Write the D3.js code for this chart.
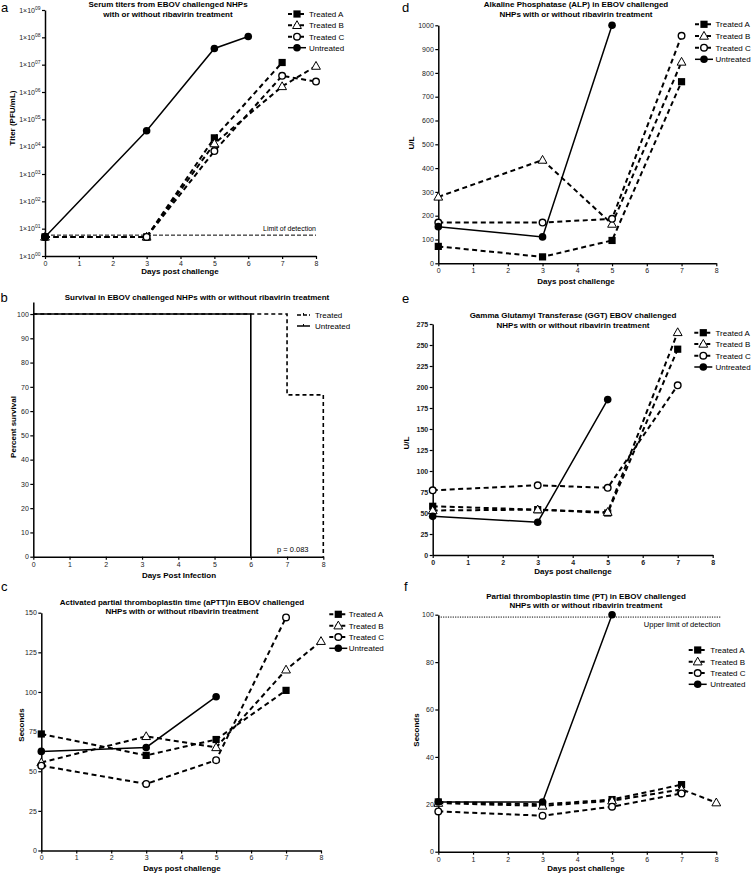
<!DOCTYPE html>
<html><head><meta charset="utf-8">
<script src="https://cdn.jsdelivr.net/npm/d3@7"></script>
<style>body{margin:0;background:#fff}svg{display:block}</style>
</head><body>
<svg id="chart" width="752" height="873"></svg>
<script>
// ---------- DATA ----------
const seriesNames = ["Treated A", "Treated B", "Treated C", "Untreated"];
const seriesShapes = ["square", "triangle", "circleOpen", "circle"];
const xTickValues = [0, 1, 2, 3, 4, 5, 6, 7, 8];

// (a) Serum titers (PFU/mL)
const aDays = [0, 3, 5, 6, 7, 8];
const aTreatedA = [5, 5, 2.1e4, null, 1.2e7, null];
const aTreatedB = [5, 5, 1.3e4, null, 1.6e6, 8.9e6];
const aTreatedC = [5, 5, 6.9e3, null, 3.9e6, 2.4e6];
const aUntreated = [5, 3.8e4, 3.9e7, 1.07e8, null, null];
const aTickExponents = ["00", "01", "02", "03", "04", "05", "06", "07", "08", "09"];
const aLimit = 5.8;

// (b) Survival (%)
const bTreatedDays = [0, 7, 8];
const bTreated = [100, 66.7, 0];
const bUntreatedDays = [0, 6];
const bUntreated = [100, 0];
const bYTicks = [0, 10, 20, 30, 40, 50, 60, 70, 80, 90, 100];

// (c) aPTT (seconds)
const cDays = [0, 3, 5, 7, 8];
const cTreatedA = [73.5, 60, 70, 101, null];
const cTreatedB = [55.5, 72, 65, 114, 132];
const cTreatedC = [53.5, 42, 57, 147, null];
const cUntreated = [62.5, 65, 97, null, null];
const cYTicks = [0, 25, 50, 75, 100, 125, 150];

// (d) ALP (U/L)
const dDays = [0, 3, 5, 7];
const dTreatedA = [71, 27, 96, 763];
const dTreatedB = [279, 434, 165, 846];
const dTreatedC = [171, 171, 187, 956];
const dUntreated = [154, 111, 1000, null];
const dYTicks = [0, 100, 200, 300, 400, 500, 600, 700, 800, 900, 1000];

// (e) GGT (U/L)
const eDays = [0, 3, 5, 7];
const eTreatedA = [58, 54, 50, 245];
const eTreatedB = [53, 54, 51, 265];
const eTreatedC = [77, 83, 80, 202];
const eUntreated = [46, 39, 185, null];
const eYTicks = [0, 25, 50, 75, 100, 125, 150, 175, 200, 225, 250, 275];

// (f) PT (seconds)
const fDays = [0, 3, 5, 7, 8];
const fTreatedA = [21, 20, 22, 28.3, null];
const fTreatedB = [20.5, 19.3, 21.5, 26.3, 20.7];
const fTreatedC = [17, 15.2, 19, 24.6, null];
const fUntreated = [21, 21, 100, null, null];
const fYTicks = [0, 20, 40, 60, 80, 100];
const fUpperLimit = 99;

// ---------- DRAWING ----------
const FONT = "'Liberation Sans', Arial, Helvetica, sans-serif";
const svg = d3.select("#chart");

function txt(g, x, y, s, o = {}) {
  return g.append("text").attr("x", x).attr("y", y).text(s)
    .attr("font-family", FONT).attr("font-size", o.size || 8)
    .attr("font-weight", o.bold ? "bold" : "normal")
    .attr("text-anchor", o.anchor || "start").attr("fill", o.fill || "#000");
}
function rotTxt(g, x, y, s) {
  return g.append("text").attr("transform", `translate(${x},${y}) rotate(-90)`).text(s)
    .attr("font-family", FONT).attr("font-size", 8).attr("font-weight", "bold")
    .attr("text-anchor", "middle").attr("dominant-baseline", "central");
}

function axes(g, x, y, yTicks, yFmt, boldTicks) {
  const gx = g.append("g").attr("transform", `translate(0,${y.range()[0]})`)
    .call(d3.axisBottom(x).tickValues(xTickValues).tickSize(3).tickSizeOuter(0).tickPadding(2));
  const gy = g.append("g").attr("transform", `translate(${x.range()[0]},0)`)
    .call(d3.axisLeft(y).tickValues(yTicks).tickFormat(yFmt).tickSize(3).tickSizeOuter(0).tickPadding(1.5));
  [gx, gy].forEach(a => {
    a.attr("font-family", FONT).attr("font-size", 7);
    a.select(".domain").attr("stroke-width", 1.5);
    a.selectAll(".tick line").attr("stroke-width", 1.2);
    a.selectAll(".tick text").attr("fill", "#222").attr("font-weight", boldTicks ? "bold" : "normal");
  });
  return {gx, gy};
}

function marker(g, shape, cx, cy) {
  if (shape === "square") {
    g.append("rect").attr("x", cx - 3.6).attr("y", cy - 3.6).attr("width", 7.2).attr("height", 7.2).attr("fill", "#000");
  } else if (shape === "triangle") {
    g.append("path").attr("d", `M${cx},${cy - 4.6}L${cx - 4.4},${cy + 3.2}L${cx + 4.4},${cy + 3.2}Z`)
      .attr("fill", "#fff").attr("stroke", "#000").attr("stroke-width", 1);
  } else if (shape === "circleOpen") {
    g.append("circle").attr("cx", cx).attr("cy", cy).attr("r", 3.3).attr("fill", "#fff").attr("stroke", "#000").attr("stroke-width", 1.4);
  } else {
    g.append("circle").attr("cx", cx).attr("cy", cy).attr("r", 3.8).attr("fill", "#000");
  }
}

function seriesPlot(g, x, y, days, seriesList) {
  const line = d3.line().x(d => x(d[0])).y(d => y(d[1]));
  const data = seriesList.map(vals => days.map((d, i) => [d, vals[i]]).filter(p => p[1] != null));
  data.forEach((pts, i) => {
    g.append("path").attr("d", line(pts)).attr("fill", "none").attr("stroke", "#000")
      .attr("stroke-width", i < 3 ? 2 : 1.5)
      .attr("stroke-dasharray", i < 3 ? "5,3.5" : null);
  });
  data.forEach((pts, i) => pts.forEach(p => marker(g, seriesShapes[i], x(p[0]), y(p[1]))));
}

function legend(g, mx, tx, ys) {
  seriesNames.forEach((n, i) => {
    g.append("line").attr("x1", mx - 9).attr("x2", mx + 9).attr("y1", ys[i]).attr("y2", ys[i])
      .attr("stroke", "#000").attr("stroke-width", i < 3 ? 2 : 1.5)
      .attr("stroke-dasharray", i < 3 ? "4,2" : null);
    marker(g, seriesShapes[i], mx, ys[i]);
    txt(g, tx, ys[i] + 2.8, n, {size: 8});
  });
}

// ---- Panel a ----
{
  const g = svg.append("g");
  const x = d3.scaleLinear([0, 8], [45, 316]);
  const y = d3.scaleLog([1, 1e9], [256, 10]);
  const yt = d3.range(0, 10).map(k => Math.pow(10, k));
  const {gy} = axes(g, x, y, yt, () => "");
  gy.selectAll(".tick text").each(function (d) {
    const t = d3.select(this);
    const k = Math.round(Math.log10(d));
    t.append("tspan").text("1×10");
    t.append("tspan").attr("dy", -3).attr("font-size", 5).text(aTickExponents[k]);
  });
  g.append("line").attr("x1", x(0)).attr("x2", x(8)).attr("y1", y(aLimit)).attr("y2", y(aLimit))
    .attr("stroke", "#000").attr("stroke-width", 1).attr("stroke-dasharray", "4,2");
  txt(g, x(8), y(aLimit) - 4, "Limit of detection", {size: 7, anchor: "end"});
  seriesPlot(g, x, y, aDays, [aTreatedA, aTreatedB, aTreatedC, aUntreated]);
  legend(g, 297, 309, [14, 25.3, 36.7, 47.7]);
  txt(g, 168, 6.5, "Serum titers from EBOV challenged NHPs", {bold: true, anchor: "middle"});
  txt(g, 168, 16.5, "with or without ribavirin treatment", {bold: true, anchor: "middle"});
  rotTxt(g, 12.5, 118, "Titer (PFU/mL)");
  txt(g, 180, 274, "Days post challenge", {bold: true, anchor: "middle"});
  txt(g, 1, 12, "a", {size: 13});
}

// ---- Panel d ----
{
  const g = svg.append("g");
  const x = d3.scaleLinear([0, 8], [438.3, 716.3]);
  const y = d3.scaleLinear([0, 1000], [263.3, 25.3]);
  axes(g, x, y, dYTicks, d3.format("d"));
  seriesPlot(g, x, y, dDays, [dTreatedA, dTreatedB, dTreatedC, dUntreated]);
  legend(g, 704, 715.5, [24.3, 36, 47.7, 59.3]);
  txt(g, 576, 7, "Alkaline Phosphatase (ALP) in EBOV challenged", {bold: true, anchor: "middle"});
  txt(g, 576, 17, "NHPs with or without ribavirin treatment", {bold: true, anchor: "middle"});
  rotTxt(g, 411, 143, "U/L");
  txt(g, 576, 283.5, "Days post challenge", {bold: true, anchor: "middle"});
  txt(g, 402, 12, "d", {size: 13});
}

// ---- Panel b ----
{
  const g = svg.append("g");
  const x = d3.scaleLinear([0, 8], [33.3, 323.3]);
  const y = d3.scaleLinear([0, 105], [556.7, 301.9]);
  axes(g, x, y, bYTicks, d3.format("d"));
  const line = d3.line().x(d => x(d[0])).y(d => y(d[1])).curve(d3.curveStepAfter);
  g.append("path").attr("d", line(bTreatedDays.map((d, i) => [d, bTreated[i]])))
    .attr("fill", "none").attr("stroke", "#000").attr("stroke-width", 1.6).attr("stroke-dasharray", "4,3");
  g.append("path").attr("d", line(bUntreatedDays.map((d, i) => [d, bUntreated[i]])))
    .attr("fill", "none").attr("stroke", "#000").attr("stroke-width", 1.6);
  // legend
  [["Treated", "4,2", 315], ["Untreated", null, 326]].forEach(([n, da, yy]) => {
    g.append("line").attr("x1", 297).attr("x2", 310).attr("y1", yy).attr("y2", yy)
      .attr("stroke", "#000").attr("stroke-width", 1.5).attr("stroke-dasharray", da);
    g.append("line").attr("x1", 303.5).attr("x2", 303.5).attr("y1", yy - 2).attr("y2", yy)
      .attr("stroke", "#000").attr("stroke-width", 1);
    txt(g, 315, yy + 2.8, n, {size: 8});
  });
  txt(g, 277, 552, "p = 0.083", {size: 7.5});
  txt(g, 197, 300, "Survival in EBOV challenged NHPs with or without ribavirin treatment", {bold: true, anchor: "middle"});
  rotTxt(g, 13, 427, "Percent survival");
  txt(g, 179, 577.5, "Days Post Infection", {bold: true, anchor: "middle"});
  txt(g, 0.5, 302, "b", {size: 13});
}

// ---- Panel e ----
{
  const g = svg.append("g");
  const x = d3.scaleLinear([0, 8], [432.7, 712.7]);
  const y = d3.scaleLinear([0, 275], [555, 324]);
  axes(g, x, y, eYTicks, d3.format("d"), true);
  seriesPlot(g, x, y, eDays, [eTreatedA, eTreatedB, eTreatedC, eUntreated]);
  legend(g, 703.3, 715.5, [332.7, 344, 355.7, 367]);
  txt(g, 573, 318, "Gamma Glutamyl Transferase (GGT) EBOV challenged", {bold: true, anchor: "middle"});
  txt(g, 573, 327.5, "NHPs with or without ribavirin treatment", {bold: true, anchor: "middle"});
  rotTxt(g, 406, 443, "U/L");
  txt(g, 573, 573.5, "Days post challenge", {bold: true, anchor: "middle"});
  txt(g, 402, 303, "e", {size: 13});
}

// ---- Panel c ----
{
  const g = svg.append("g");
  const x = d3.scaleLinear([0, 8], [41.3, 321]);
  const y = d3.scaleLinear([0, 150], [850.5, 612.7]);
  axes(g, x, y, cYTicks, d3.format("d"));
  seriesPlot(g, x, y, cDays, [cTreatedA, cTreatedB, cTreatedC, cUntreated]);
  legend(g, 338.3, 348.7, [614.3, 625.7, 637, 648.3]);
  txt(g, 182, 604.5, "Activated partial thromboplastin time (aPTT)in EBOV challenged", {bold: true, anchor: "middle"});
  txt(g, 182, 613.5, "NHPs with or without ribavirin treatment", {bold: true, anchor: "middle"});
  rotTxt(g, 21.7, 725, "Seconds");
  txt(g, 182, 870.5, "Days post challenge", {bold: true, anchor: "middle"});
  txt(g, 1, 591, "c", {size: 13});
}

// ---- Panel f ----
{
  const g = svg.append("g");
  const x = d3.scaleLinear([0, 8], [438.3, 716.3]);
  const y = d3.scaleLinear([0, 100], [851.7, 614.7]);
  axes(g, x, y, fYTicks, d3.format("d"));
  g.append("line").attr("x1", x(0)).attr("x2", 721).attr("y1", y(fUpperLimit)).attr("y2", y(fUpperLimit))
    .attr("stroke", "#000").attr("stroke-width", 1).attr("stroke-dasharray", "1.2,1.2");
  txt(g, 720.5, 627, "Upper limit of detection", {size: 7.5, anchor: "end"});
  seriesPlot(g, x, y, fDays, [fTreatedA, fTreatedB, fTreatedC, fUntreated]);
  legend(g, 697.7, 710.3, [650, 661.7, 673, 684.3]);
  txt(g, 586, 599, "Partial thromboplastin time (PT) in EBOV challenged", {bold: true, anchor: "middle"});
  txt(g, 586, 607.5, "NHPs with or without ribavirin treatment", {bold: true, anchor: "middle"});
  rotTxt(g, 416, 730, "Seconds");
  txt(g, 586, 871, "Days post challenge", {bold: true, anchor: "middle"});
  txt(g, 404, 591, "f", {size: 13});
}
</script>
</body></html>
